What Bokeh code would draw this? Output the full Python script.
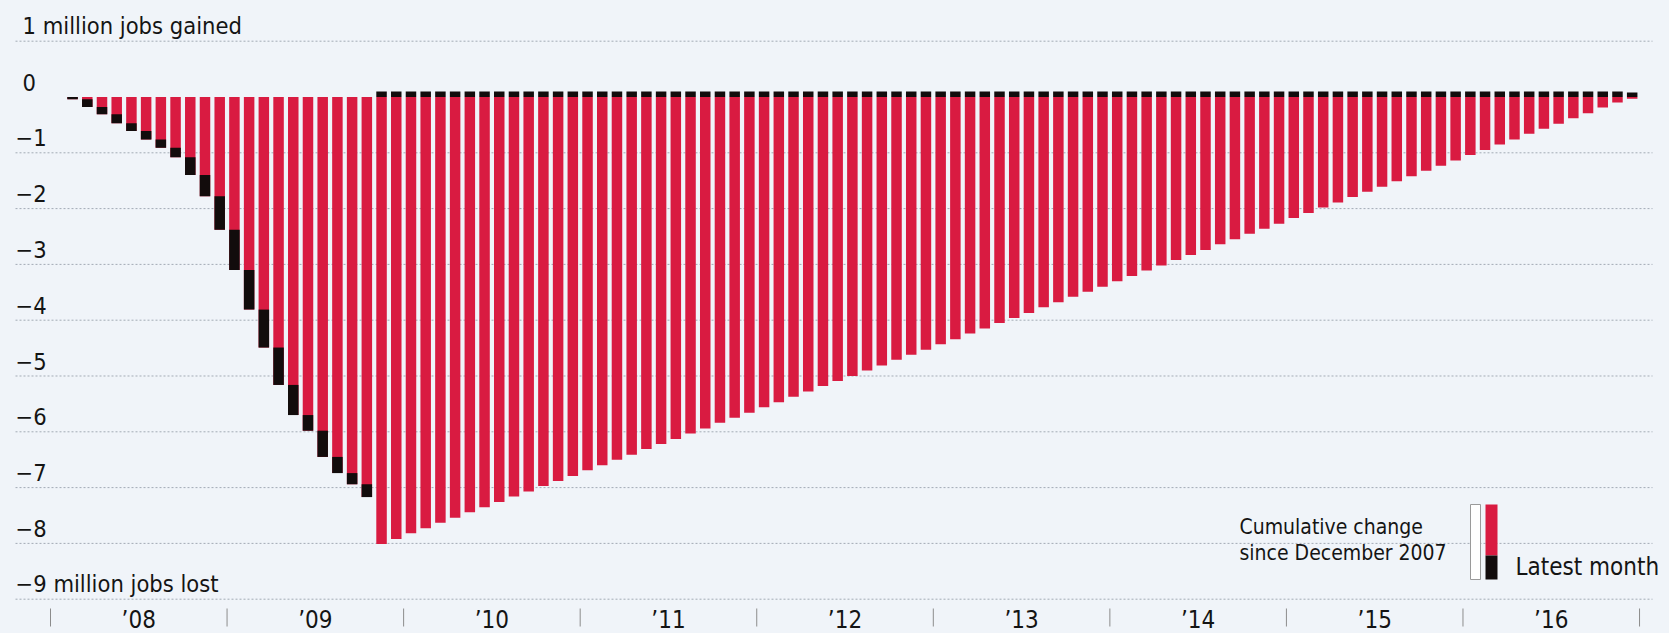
import numpy as np
import pandas as pd
from bokeh.plotting import figure
from bokeh.models import Range1d, ColumnDataSource
from bokeh.core.properties import value
from bokeh.embed import file_html
from bokeh.resources import INLINE

# ---------------- data ----------------
months = pd.date_range("2008-02-01", "2016-12-01", freq="MS")   # 107 monthly bars

# cumulative change since December 2007, millions of jobs (bottom of each bar)
cumulative = [
    -0.04, -0.18, -0.31, -0.47, -0.61, -0.76, -0.91, -1.08, -1.40, -1.78, -2.38,          # Feb-Dec 2008
    -3.10, -3.81, -4.49, -5.16, -5.70, -5.98, -6.45, -6.74, -6.94, -7.17, -8.01, -7.92,   # 2009
    -7.82, -7.73, -7.63, -7.54, -7.44, -7.35, -7.26, -7.16, -7.07, -6.97, -6.88, -6.79,   # 2010
    -6.69, -6.60, -6.50, -6.41, -6.31, -6.22, -6.13, -6.03, -5.94, -5.84, -5.75, -5.66,   # 2011
    -5.56, -5.47, -5.37, -5.28, -5.18, -5.09, -5.00, -4.90, -4.81, -4.71, -4.62, -4.53,   # 2012
    -4.43, -4.34, -4.24, -4.15, -4.05, -3.96, -3.87, -3.77, -3.68, -3.58, -3.49, -3.40,   # 2013
    -3.30, -3.21, -3.11, -3.02, -2.92, -2.83, -2.74, -2.64, -2.55, -2.45, -2.36, -2.27,   # 2014
    -2.17, -2.08, -1.98, -1.89, -1.79, -1.70, -1.61, -1.51, -1.42, -1.32, -1.23, -1.14,   # 2015
    -1.04, -0.95, -0.85, -0.76, -0.66, -0.57, -0.48, -0.38, -0.29, -0.19, -0.10, -0.03,   # 2016
]

# latest month's change, millions of jobs (black part of each bar)
latest_month = [
    -0.04, -0.14, -0.13, -0.16, -0.14, -0.15, -0.15, -0.17, -0.32, -0.38, -0.60,
    -0.72, -0.71, -0.68, -0.67, -0.54, -0.28, -0.47, -0.29, -0.20, -0.23, 0.10, 0.10,
    0.10, 0.10, 0.10, 0.10, 0.10, 0.10, 0.10, 0.10, 0.10, 0.10, 0.10, 0.10,
    0.10, 0.10, 0.10, 0.10, 0.10, 0.10, 0.10, 0.10, 0.10, 0.10, 0.10, 0.10,
    0.10, 0.10, 0.10, 0.10, 0.10, 0.10, 0.10, 0.10, 0.10, 0.10, 0.10, 0.10,
    0.10, 0.10, 0.10, 0.10, 0.10, 0.10, 0.10, 0.10, 0.10, 0.10, 0.10, 0.10,
    0.10, 0.10, 0.10, 0.10, 0.10, 0.10, 0.10, 0.10, 0.10, 0.10, 0.10, 0.10,
    0.10, 0.10, 0.10, 0.10, 0.10, 0.10, 0.10, 0.10, 0.10, 0.10, 0.10, 0.10,
    0.10, 0.10, 0.10, 0.10, 0.10, 0.10, 0.10, 0.10, 0.10, 0.10, 0.10, 0.08,
]

y_label_values = [1, 0, -1, -2, -3, -4, -5, -6, -7, -8, -9]
y_label_texts = ["1 million jobs gained", "0", "−1", "−2", "−3", "−4", "−5",
                 "−6", "−7", "−8", "−9 million jobs lost"]
grid_values = [1, -1, -2, -3, -4, -5, -6, -7, -8, -9]

year_starts = [2008, 2009, 2010, 2011, 2012, 2013, 2014, 2015, 2016, 2017]
year_labels = ["’08", "’09", "’10", "’11", "’12", "’13", "’14", "’15", "’16"]

legend_left_text = ["Cumulative change", "since December 2007"]
legend_right_text = "Latest month"

# ---------------- geometry (page pixels -> data) ----------------
FIG_W, FIG_H = 1669, 633
X0_PX, PX_PER_YEAR = 50.0, 176.56     # page x of 1 Jan 2008, pixels per year
Y0_PX, PX_PER_M = 96.5, 55.8          # page y of zero line, pixels per million


def xd(px):
    return 2008 + (px - X0_PX) / PX_PER_YEAR


def yd(py):
    return (Y0_PX - py) / PX_PER_M


FONT = "Liberation Sans Narrow, DejaVu Sans Condensed, sans-serif"
BG = "#f0f4f9"
RED = "#d91b41"
BLACK = "#120c0c"
TEXT = "#141414"

p = figure(width=FIG_W, height=FIG_H, output_backend="svg", toolbar_location=None,
           x_range=Range1d(xd(0), xd(FIG_W)),
           y_range=Range1d(yd(FIG_H), yd(0)),
           x_axis_location=None, y_axis_location=None,
           min_border=0, min_border_left=0, min_border_right=0,
           min_border_top=0, min_border_bottom=0)
p.background_fill_color = BG
p.border_fill_color = BG
p.outline_line_color = None
p.grid.visible = False

# dotted horizontal gridlines
p.segment(x0=[xd(15)] * len(grid_values), x1=[xd(1652)] * len(grid_values),
          y0=grid_values, y1=grid_values, line_color="#a3abb5",
          line_width=1, line_dash="2 2")

# bars
xpos = np.array([d.year + (d.month - 0.5) / 12 for d in months])
cum = np.array(cumulative)
lat = np.array(latest_month)
bar_w = 10.5 / PX_PER_YEAR

black_top = np.where(lat < 0, cum - lat, lat)
black_bottom = np.where(lat < 0, cum, 0.0)

src = ColumnDataSource(dict(x=xpos, cum=cum, zero=np.zeros_like(cum),
                            btop=black_top, bbot=black_bottom))
p.vbar(x="x", width=bar_w, top="zero", bottom="cum", source=src,
       fill_color=RED, line_color=None)
p.vbar(x="x", width=bar_w, top="btop", bottom="bbot", source=src,
       fill_color=BLACK, line_color=None)

# y labels (sitting above their gridlines)
lab_x = [xd(15) if t.startswith("−") else xd(22) for t in y_label_texts]
p.text(x=lab_x, y=y_label_values, text=y_label_texts, text_font=value(FONT),
       text_font_size="23.5px", text_color=TEXT, text_align="left",
       text_baseline="middle", y_offset=-15)

# x ticks and year labels
p.segment(x0=year_starts, x1=year_starts, y0=[yd(608)] * len(year_starts),
          y1=[yd(626)] * len(year_starts), line_color="#8c8c8c", line_width=1)
p.text(x=[y + 0.5 for y in year_starts[:-1]], y=[yd(619)] * len(year_labels),
       text=year_labels, text_font=value(FONT), text_font_size="24px",
       text_color=TEXT, text_align="center", text_baseline="middle")

# legend
p.quad(left=[xd(1470)], right=[xd(1480)], top=[yd(504)], bottom=[yd(579)],
       fill_color="#ffffff", line_color="#9a9a9a", line_width=1)
p.quad(left=[xd(1485)], right=[xd(1497)], top=[yd(504)], bottom=[yd(555)],
       fill_color=RED, line_color=None)
p.quad(left=[xd(1485)], right=[xd(1497)], top=[yd(555)], bottom=[yd(579)],
       fill_color=BLACK, line_color=None)
p.text(x=[xd(1239)] * 2, y=[yd(526), yd(552)], text=legend_left_text,
       text_font=value(FONT), text_font_size="21px", text_color=TEXT,
       text_align="left", text_baseline="middle")
p.text(x=[xd(1515)], y=[yd(566)], text=[legend_right_text],
       text_font=value(FONT), text_font_size="24px", text_color=TEXT,
       text_align="left", text_baseline="middle")

html = file_html(p, INLINE, title="Jobs")
html = html.replace("</head>", "<style>html, body { background: %s; }</style></head>" % BG, 1)
open("out.html", "w").write(html)
